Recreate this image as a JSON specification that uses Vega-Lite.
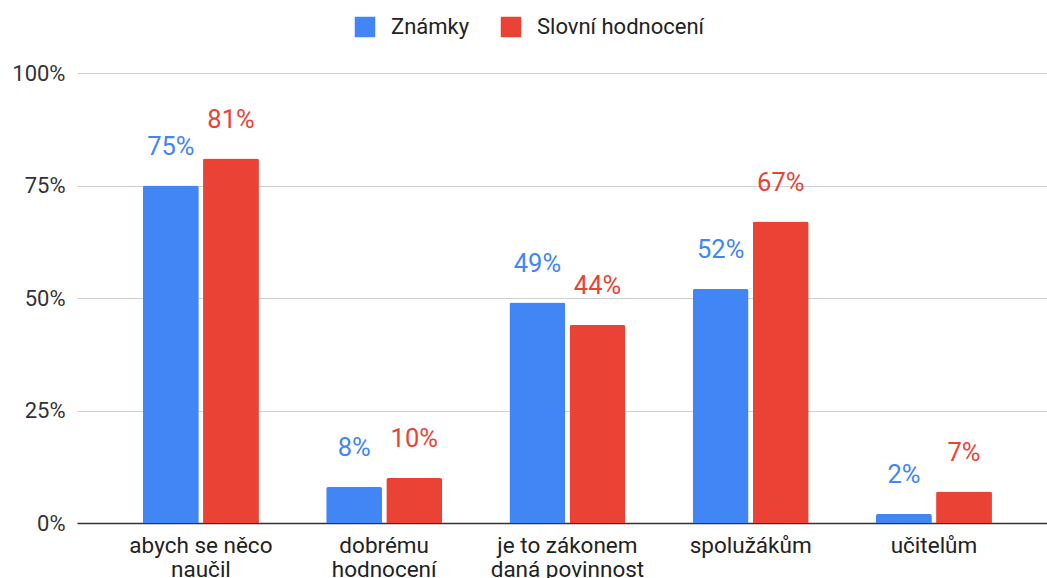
{
  "$schema": "https://vega.github.io/schema/vega-lite/v6.json",
  "autosize": {"type": "none"},
  "width": 970,
  "height": 450,
  "padding": {"left": 77, "top": 73, "right": 0, "bottom": 55},
  "background": "white",
  "config": {
    "view": {"stroke": null},
    "font": "Roboto"
  },
  "data": {
    "values": [
      {"kategorie": "abych se něco naučil", "serie": "Známky", "podil": 0.75},
      {"kategorie": "abych se něco naučil", "serie": "Slovní hodnocení", "podil": 0.81},
      {"kategorie": "dobrému hodnocení", "serie": "Známky", "podil": 0.08},
      {"kategorie": "dobrému hodnocení", "serie": "Slovní hodnocení", "podil": 0.10},
      {"kategorie": "je to zákonem daná povinnost", "serie": "Známky", "podil": 0.49},
      {"kategorie": "je to zákonem daná povinnost", "serie": "Slovní hodnocení", "podil": 0.44},
      {"kategorie": "spolužákům", "serie": "Známky", "podil": 0.52},
      {"kategorie": "spolužákům", "serie": "Slovní hodnocení", "podil": 0.67},
      {"kategorie": "učitelům", "serie": "Známky", "podil": 0.02},
      {"kategorie": "učitelům", "serie": "Slovní hodnocení", "podil": 0.07}
    ]
  },
  "encoding": {
    "x": {
      "field": "kategorie",
      "type": "nominal",
      "sort": null,
      "scale": {"paddingInner": 0.367, "paddingOuter": 0.33, "align": 0.545},
      "axis": {
        "title": null,
        "labelAngle": 0,
        "labelFontSize": 22.5,
        "labelColor": "#222222",
        "labelPadding": 11,
        "labelLineHeight": 24,
        "labelBaseline": "top",
        "ticks": false,
        "grid": false,
        "domain": true,
        "domainColor": "#333333",
        "domainWidth": 1.5,
        "labelExpr": "datum.value == 'abych se něco naučil' ? ['abych se něco', 'naučil'] : datum.value == 'dobrému hodnocení' ? ['dobrému', 'hodnocení'] : datum.value == 'je to zákonem daná povinnost' ? ['je to zákonem', 'daná povinnost'] : datum.value"
      }
    },
    "xOffset": {
      "field": "serie",
      "type": "nominal",
      "sort": ["Známky", "Slovní hodnocení"],
      "scale": {"paddingInner": 0.07, "paddingOuter": 0}
    },
    "y": {
      "field": "podil",
      "type": "quantitative",
      "scale": {"domain": [0, 1], "nice": false},
      "axis": {
        "title": null,
        "format": ".0%",
        "values": [0, 0.25, 0.5, 0.75, 1],
        "labelFontSize": 22,
        "labelColor": "#333333",
        "labelPadding": 12,
        "ticks": false,
        "domain": false,
        "grid": true,
        "gridColor": "#d0d0d0",
        "gridWidth": 1.2
      }
    },
    "color": {
      "field": "serie",
      "type": "nominal",
      "sort": ["Známky", "Slovní hodnocení"],
      "scale": {"domain": ["Známky", "Slovní hodnocení"], "range": ["#4285F4", "#EA4335"]},
      "legend": {
        "title": null,
        "orient": "none",
        "direction": "horizontal",
        "legendX": 277,
        "legendY": -57,
        "symbolType": "square",
        "symbolSize": 420,
        "symbolStrokeWidth": 0,
        "labelFontSize": 22,
        "labelLimit": 400,
        "labelColor": "#222222",
        "labelOffset": 15,
        "columnPadding": 30
      }
    }
  },
  "layer": [
    {
      "mark": {"type": "bar", "cornerRadiusTopLeft": 2, "cornerRadiusTopRight": 2}
    },
    {
      "mark": {"type": "text", "fontSize": 25.5, "baseline": "alphabetic", "dy": -31},
      "encoding": {
        "text": {"field": "podil", "type": "quantitative", "format": ".0%"}
      }
    }
  ]
}
